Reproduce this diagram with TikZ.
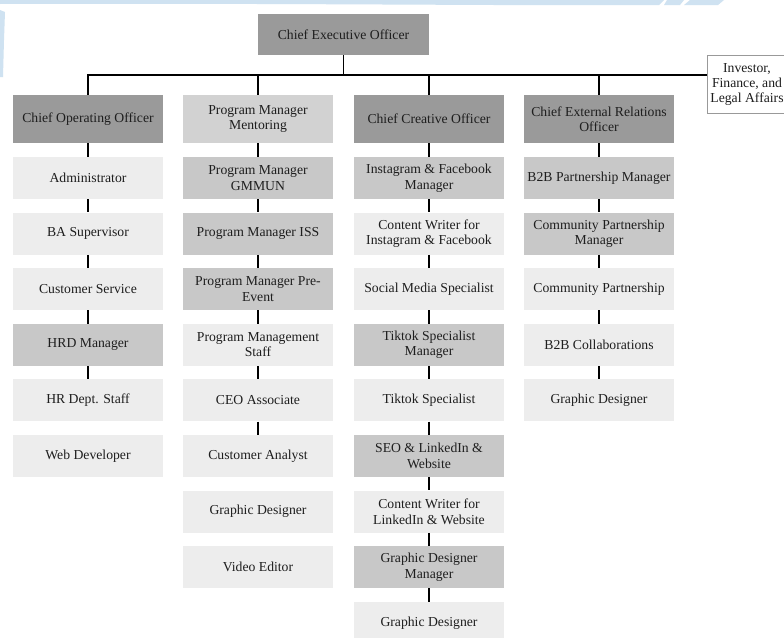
\documentclass[tikz,border=0pt]{standalone}
\usepackage{fontspec}
\setmainfont{Liberation Serif}
\definecolor{dkgray}{HTML}{9A9A9A}
\definecolor{mdgray}{HTML}{C8C8C8}
\definecolor{mngray}{HTML}{D2D2D2}
\definecolor{ltgray}{HTML}{EDEDED}
\definecolor{txt}{HTML}{1E1E1E}
\definecolor{swoosh}{HTML}{CFE2F1}
\tikzset{
  box/.style={rectangle, inner sep=0pt, minimum width=150pt, minimum height=42pt,
    align=center, text=txt, font=\fontsize{13.7}{15.5}\selectfont},
  toprow/.style={box, minimum height=48pt},
  dk/.style={fill=dkgray},
  md/.style={fill=mdgray},
  mn/.style={fill=mngray},
  lt/.style={fill=ltgray},
  conn/.style={line width=1.8pt, draw=black, line join=miter},
  invbox/.style={rectangle, inner sep=0pt, minimum width=80pt, minimum height=58pt,
    draw=gray!80, line width=0.8pt, fill=white, align=center, text=txt,
    font=\fontsize{13.7}{15}\selectfont}
}
\begin{document}
\begin{tikzpicture}[x=1pt,y=-1pt]
\useasboundingbox (0,0) rectangle (784,637);
\clip (0,0) rectangle (784,637);
\fill[white] (0,0) rectangle (784,637);
% background swoosh
\fill[swoosh] (0,0) -- (664,0) -- (659,5) .. controls (500,6) and (300,3) .. (0,4) -- cycle;
\fill[swoosh] (667,0) -- (684,0) -- (680,5) -- (664,5) -- cycle;
\fill[swoosh] (690,0) -- (724,0) -- (718,5) -- (684,5) -- cycle;
\fill[swoosh] (0,10) -- (5,12) -- (4,40) -- (3,77) -- (0,77) -- cycle;

\coordinate (bus) at (0,75);

% CEO and investor
\node[box, dk, minimum width=171pt, minimum height=41pt] (ceo) at (343.5,34.5) {Chief Executive Officer};
\node[invbox] (inv) at (747,84) {Investor,\\Finance, and\\Legal Affairs};

% column 1
\node[toprow, dk] (a1) at (88,119) {Chief Operating Officer};
\node[box, lt] (a2) at (88,178) {Administrator};
\node[box, lt] (a3) at (88,233.6) {BA Supervisor};
\node[box, lt] (a4) at (88,289.2) {Customer Service};
\node[box, md] (a5) at (88,344.8) {HRD Manager};
\node[box, lt] (a6) at (88,400.4) {HR Dept. Staff};
\node[box, lt] (a7) at (88,456) {Web Developer};

% column 2
\node[toprow, mn] (b1) at (258,119) {Program Manager\\Mentoring};
\node[box, md] (b2) at (258,178) {Program Manager\\GMMUN};
\node[box, md] (b3) at (258,233.6) {Program Manager ISS};
\node[box, md] (b4) at (258,289.2) {Program Manager Pre-\\Event};
\node[box, lt] (b5) at (258,344.8) {Program Management\\Staff};
\node[box, lt] (b6) at (258,400.4) {CEO Associate};
\node[box, lt] (b7) at (258,456) {Customer Analyst};
\node[box, lt] (b8) at (258,511.6) {Graphic Designer};
\node[box, lt] (b9) at (258,567.2) {Video Editor};

% column 3
\node[toprow, dk] (c1) at (429,119) {Chief Creative Officer};
\node[box, md] (c2) at (429,178) {Instagram \& Facebook\\Manager};
\node[box, lt] (c3) at (429,233.6) {Content Writer for\\Instagram \& Facebook};
\node[box, lt] (c4) at (429,289.2) {Social Media Specialist};
\node[box, md] (c5) at (429,344.8) {Tiktok Specialist\\Manager};
\node[box, lt] (c6) at (429,400.4) {Tiktok Specialist};
\node[box, md] (c7) at (429,456) {SEO \& LinkedIn \&\\Website};
\node[box, lt] (c8) at (429,511.6) {Content Writer for\\LinkedIn \& Website};
\node[box, md] (c9) at (429,567.2) {Graphic Designer\\Manager};
\node[box, lt] (c10) at (429,622.8) {Graphic Designer};

% column 4
\node[toprow, dk] (d1) at (599,119) {Chief External Relations\\Officer};
\node[box, md] (d2) at (599,178) {B2B Partnership Manager};
\node[box, md] (d3) at (599,233.6) {Community Partnership\\Manager};
\node[box, lt] (d4) at (599,289.2) {Community Partnership};
\node[box, lt] (d5) at (599,344.8) {B2B Collaborations};
\node[box, lt] (d6) at (599,400.4) {Graphic Designer};

% top connectors
\draw[conn] (ceo.south) -- (ceo.south |- bus);
\draw[conn] (a1.north) -- (a1.north |- bus) -- (inv.west |- bus);
\draw[conn] (b1.north) -- (b1.north |- bus);
\draw[conn] (c1.north) -- (c1.north |- bus);
\draw[conn] (d1.north) -- (d1.north |- bus);

% column connectors
\foreach \u/\v in {a1/a2,a2/a3,a3/a4,a4/a5,a5/a6,
                   b1/b2,b2/b3,b3/b4,b4/b5,b5/b6,b6/b7,
                   c1/c2,c2/c3,c3/c4,c4/c5,c5/c6,c6/c7,c7/c8,c8/c9,c9/c10,
                   d1/d2,d2/d3,d3/d4,d4/d5,d5/d6}
  \draw[conn] (\u.south) -- (\v.north);
\end{tikzpicture}
\end{document}
